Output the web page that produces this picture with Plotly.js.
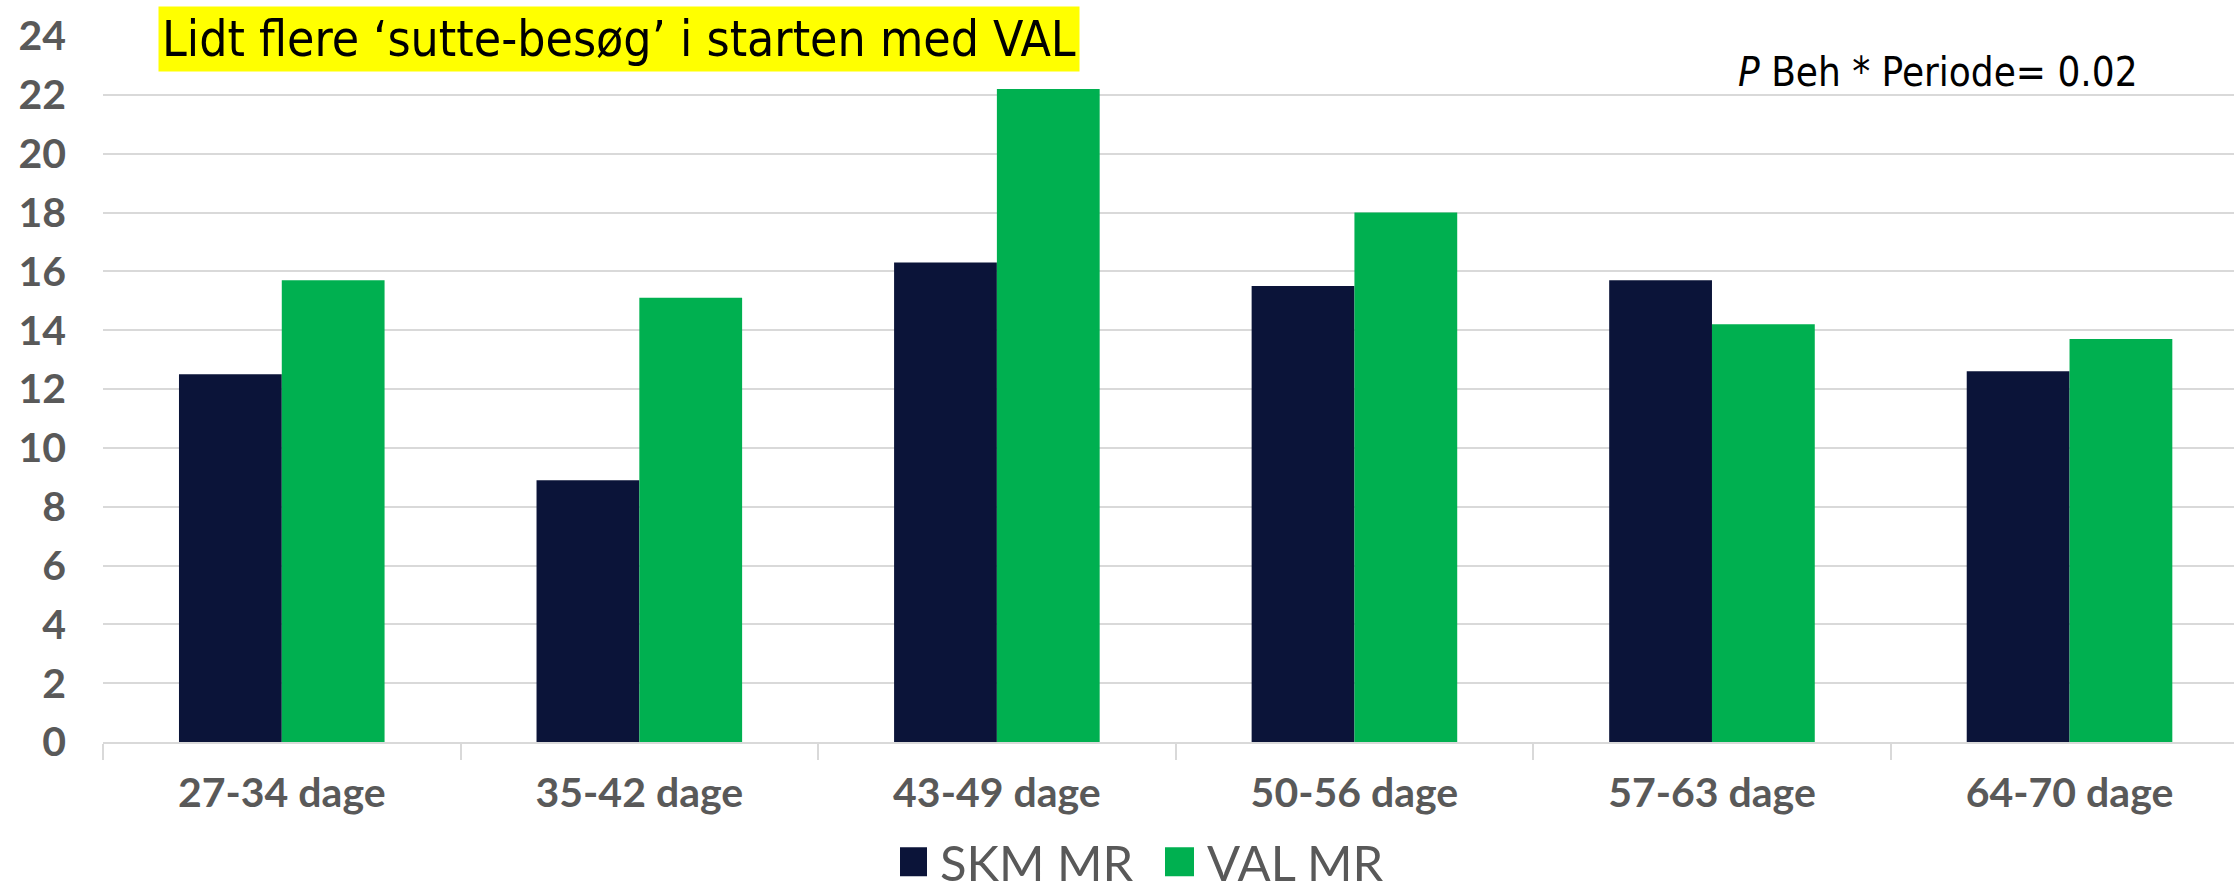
<!DOCTYPE html>
<html>
<head>
<meta charset="utf-8">
<script src="https://cdn.plot.ly/plotly-3.0.1.min.js"></script>
<style>html,body{margin:0;padding:0;background:#fff;}#chart{width:2234px;height:895px;}</style>
</head>
<body>
<div id="chart"></div>
<script>
const categories = ["27-34 dage", "35-42 dage", "43-49 dage", "50-56 dage", "57-63 dage", "64-70 dage"];
const skmValues = [12.5, 8.9, 16.3, 15.5, 15.7, 12.6];
const valValues = [15.7, 15.1, 22.2, 18.0, 14.2, 13.7];
const yTicks = [0, 2, 4, 6, 8, 10, 12, 14, 16, 18, 20, 22, 24];
const seriesNames = ["SKM MR", "VAL MR"];
const titleText = "Lidt flere ‘sutte-besøg’ i starten med VAL";
const noteText = "<i>P</i> Beh * Periode= 0.02";

const gray = "#595959";
const grid = "#d9d9d9";
const narrow = "DejaVu Sans Condensed, DejaVu Sans";

const traces = [
  {type: "bar", name: seriesNames[0], x: categories, y: skmValues, marker: {color: "#0b1439"}},
  {type: "bar", name: seriesNames[1], x: categories, y: valValues, marker: {color: "#00b050"}}
];

const layout = {
  width: 2234, height: 895,
  margin: {l: 103, r: 0, t: 36, b: 153, pad: 0},
  paper_bgcolor: "#ffffff", plot_bgcolor: "#ffffff",
  barmode: "group", bargap: 0.425, bargroupgap: 0,
  showlegend: true,
  legend: {orientation: "h", xref: "container", yref: "container", x: 900 / 2234, xanchor: "left",
           y: 1 - 862 / 895, yanchor: "middle", entrywidth: 222, entrywidthmode: "pixels",
           borderwidth: 0, bgcolor: "rgba(0,0,0,0)",
           font: {family: "Lato", size: 49, color: gray}},
  xaxis: {type: "category", range: [-0.5, 5.46], showline: true, linecolor: grid, linewidth: 2,
          ticks: "outside", tickson: "boundaries", ticklen: 16, tickcolor: grid, tickwidth: 2,
          ticklabelstandoff: 14, showgrid: false, zeroline: false, automargin: false,
          tickfont: {family: "Lato", size: 41, color: gray, weight: "bold"}},
  yaxis: {range: [0, 24], tickvals: yTicks, ticktext: yTicks.map(String), showgrid: true, gridcolor: grid, gridwidth: 2,
          zeroline: false, showline: false, ticks: "", ticklabelstandoff: 36, automargin: false,
          tickfont: {family: "Lato", size: 41, color: gray, weight: "bold"}},
  annotations: [
    {xref: "paper", yref: "paper", x: (158 - 103) / 2131, y: (742 - 5) / 706.5, xanchor: "left", yanchor: "top",
     text: titleText, showarrow: false, bgcolor: "#ffff00", borderpad: 3,
     font: {family: narrow, size: 49.5, color: "#000000", stretch: "condensed"}},
    {xref: "paper", yref: "paper", x: (2140 - 103) / 2131, y: (742 - 72) / 706.5, xanchor: "right", yanchor: "middle",
     text: noteText, showarrow: false,
     font: {family: narrow, size: 40, color: "#000000", stretch: "condensed"}}
  ]
};

Plotly.newPlot("chart", traces, layout, {displayModeBar: false, staticPlot: true}).then(function () {
  document.querySelectorAll(".legend .legendpoints path").forEach(function (p) {
    p.setAttribute("d", "M7,14.5H-22V-14.5H7Z");
  });
});
</script>
</body>
</html>
